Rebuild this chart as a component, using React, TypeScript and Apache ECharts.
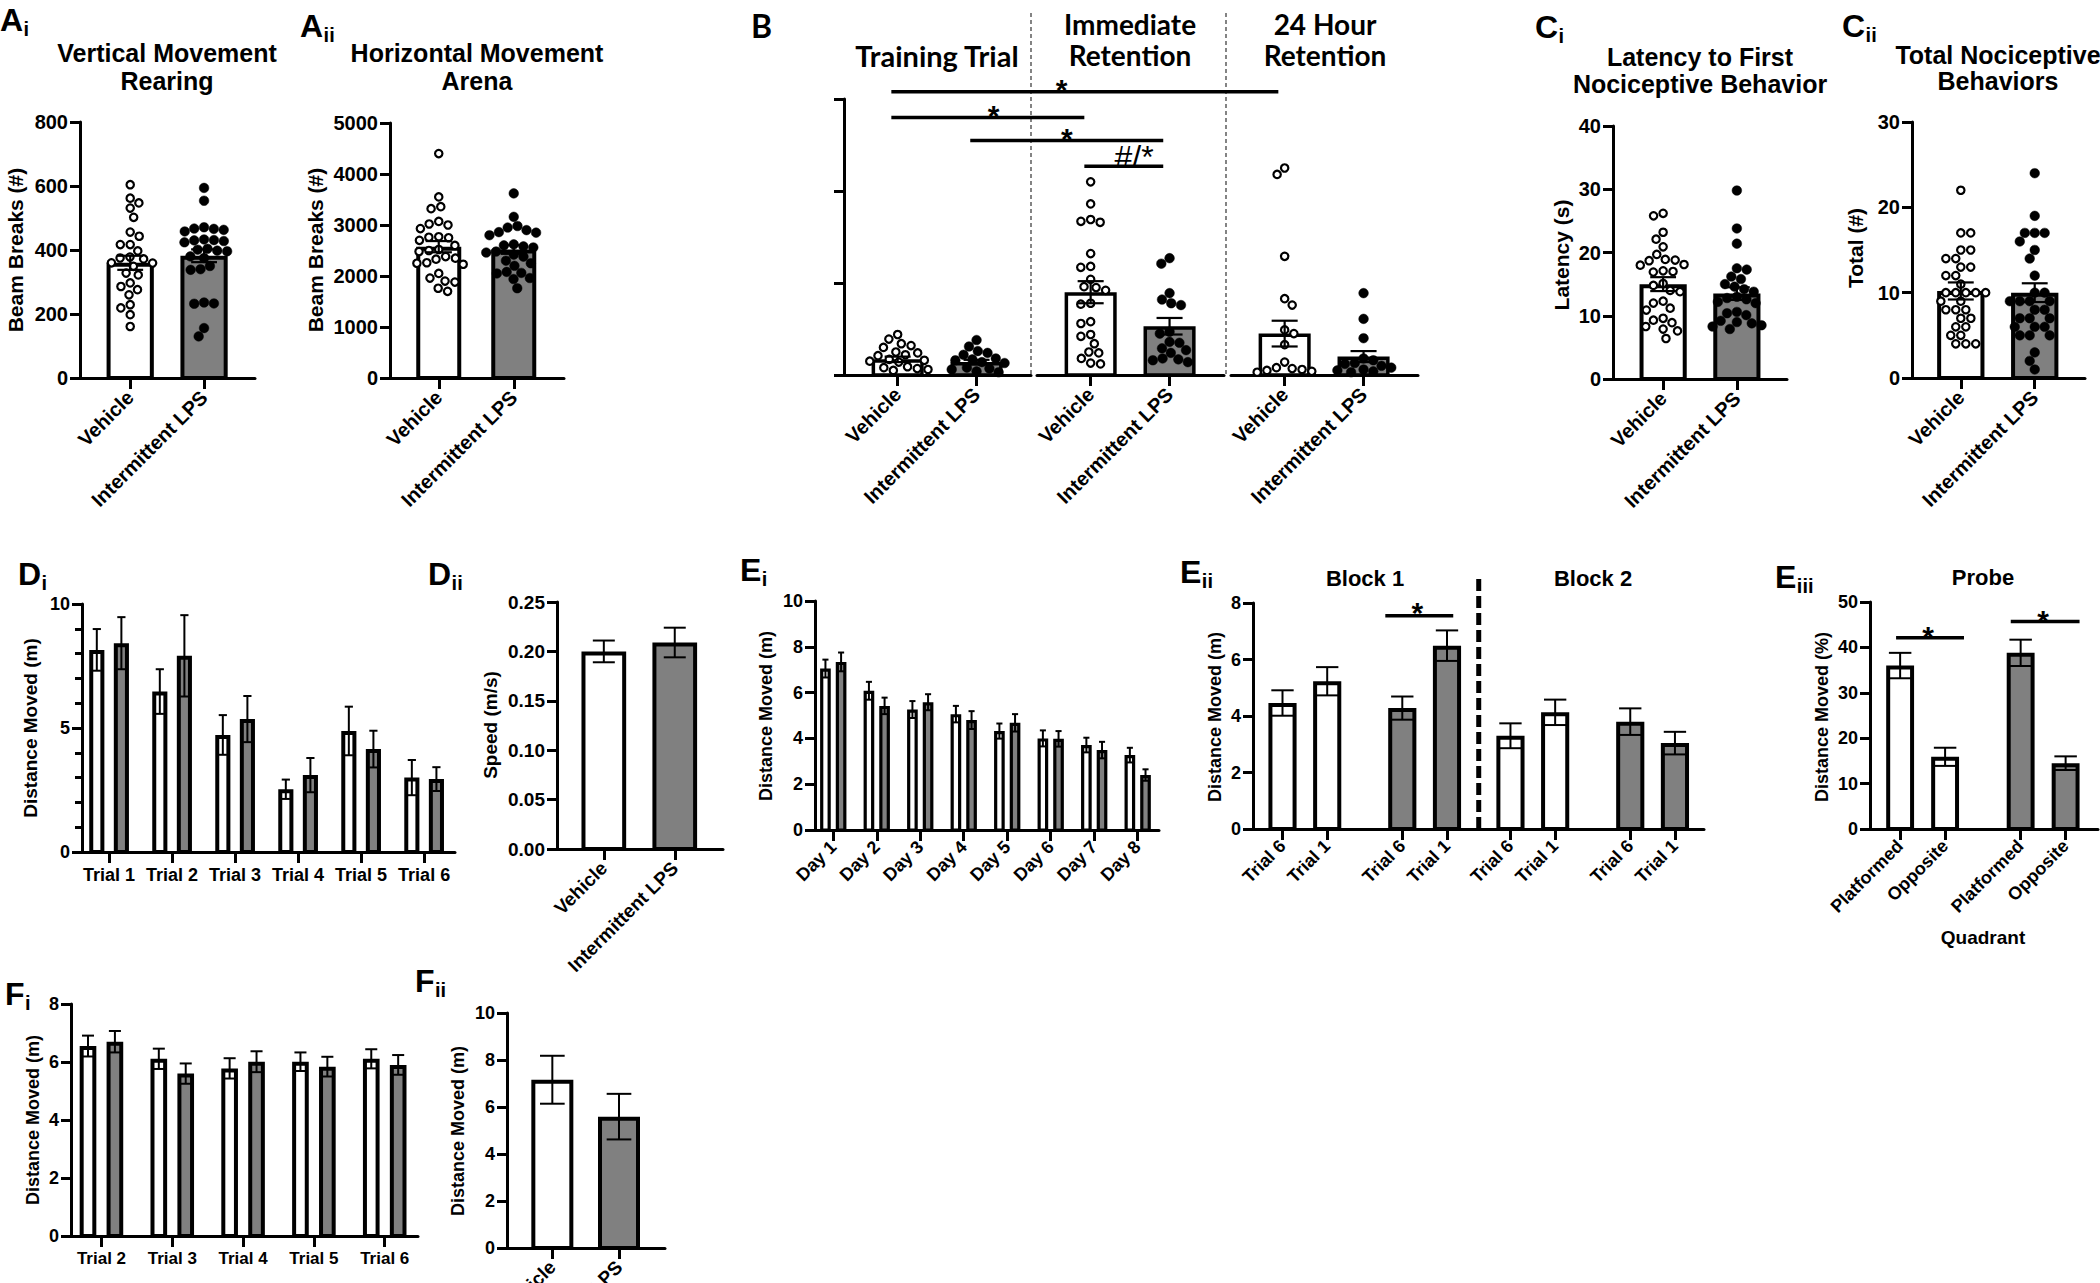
import React, { useEffect, useRef } from "react";
import * as echarts from "echarts";

const SANS = '"Liberation Sans", Arial, Helvetica, sans-serif';
const HUMANIST = 'Lato, "Liberation Sans", Arial, sans-serif';
const INK = "#000000";
const GREY = "#808080";
const PAPER = "#ffffff";

// ---------------- data ----------------
const groupNames = ["Vehicle", "Intermittent LPS"];

// Ai – vertical movement (rearing), beam breaks (#)
const rearingMean = [360, 382];
const rearingSem = [22, 20];
const rearingVehicle = [604, 562, 547, 531, 502, 456, 443, 417, 417, 397, 378, 375, 372, 360, 359, 349, 328, 322, 297, 286, 276, 260, 229, 219, 198, 161];
const rearingLps = [594, 554, 471, 467, 466, 463, 458, 433, 431, 430, 428, 424, 404, 401, 398, 396, 380, 375, 350, 340, 338, 236, 233, 232, 156, 130];

// Aii – horizontal movement (arena), beam breaks (#)
const arenaMean = [2575, 2520];
const arenaSem = [110, 85];
const arenaVehicle = [4400, 3550, 3360, 3320, 3070, 3020, 3000, 2930, 2770, 2760, 2750, 2700, 2600, 2520, 2500, 2480, 2380, 2350, 2330, 2260, 2250, 2230, 2050, 1960, 1900, 1880, 1760, 1700];
const arenaLps = [3620, 3160, 2980, 2950, 2900, 2860, 2850, 2800, 2620, 2600, 2580, 2560, 2480, 2460, 2420, 2380, 2300, 2250, 2200, 2080, 2060, 2050, 1960, 1940, 1760];

// B – passive avoidance (three phases)
const passiveVehicleMean = [17, 90, 45];
const passiveVehicleSem = [3, 12, 14];
const passiveLpsMean = [14, 53, 20];
const passiveLpsSem = [2.5, 9, 6];
const trainingVehicle = [44, 39, 34, 32, 30, 25, 24, 22, 21, 17, 16, 15, 14, 9, 8, 7, 6, 5];
const trainingLps = [38, 31, 26, 24, 22, 18, 17, 16, 14, 13, 8, 7, 6, 4, 3];
const immediateVehicle = [210, 186, 169, 167, 166, 132, 118, 117, 104, 96, 95, 92, 78, 77, 58, 56, 44, 42, 34, 25, 24, 18, 13, 12];
const immediateLps = [127, 121, 89, 82, 78, 76, 47, 45, 36, 35, 29, 27, 24, 18, 17, 16, 14];
const dayAfterVehicle = [225, 218, 129, 83, 76, 49, 45, 33, 14, 8, 7, 6, 5, 4, 3];
const dayAfterLps = [89, 61, 40, 18, 16, 13, 12, 10, 8, 6, 5, 4, 3];
const passiveSigY = [308, 280, 255, 227];

// Ci – latency to first nociceptive behaviour (s)
const latencyMean = [15.0, 13.5];
const latencySem = [1.1, 1.0];
const latencyVehicle = [26.2, 25.8, 23.2, 22.1, 20.9, 19.7, 18.9, 18.8, 18.7, 18.1, 18.0, 17.1, 17.0, 16.9, 15.1, 14.8, 14.0, 13.8, 12.3, 12.0, 11.2, 10.9, 9.6, 9.3, 8.9, 8.3, 7.9, 7.6, 6.4];
const latencyLps = [29.8, 23.8, 21.4, 17.5, 17.3, 16.2, 15.8, 15.0, 14.6, 14.2, 13.8, 13.0, 12.8, 12.6, 12.2, 12.0, 10.6, 10.4, 10.1, 9.2, 9.0, 8.8, 8.5, 8.3, 7.9];

// Cii – total nociceptive behaviours (#)
const totalMean = [10.2, 10.0];
const totalSem = [1.0, 1.1];
const totalVehicle = [22, 17, 17, 15, 15, 14, 14, 13, 13, 12, 12, 11, 10, 10, 10, 10, 10, 9, 9, 8, 8, 8, 7, 7, 6, 6, 5, 5, 4, 4, 4];
const totalLps = [24, 19, 17, 17, 17, 16, 15, 14, 12, 10, 10, 9, 9, 9, 9, 8, 8, 7, 7, 7, 6, 6, 6, 5, 5, 5, 3, 2, 1];

// Di – distance moved per trial (m)
const diTrials = ["Trial 1", "Trial 2", "Trial 3", "Trial 4", "Trial 5", "Trial 6"];
const diVehicleMean = [8.15, 6.47, 4.72, 2.53, 4.88, 3.0];
const diVehicleSem = [0.84, 0.9, 0.8, 0.39, 0.98, 0.71];
const diLpsMean = [8.42, 7.91, 5.36, 3.1, 4.15, 2.94];
const diLpsSem = [1.05, 1.64, 0.93, 0.69, 0.74, 0.48];

// Dii – speed (m/s)
const speedMean = [0.2, 0.209];
const speedSem = [0.011, 0.015];

// Ei – distance moved per day (m)
const eiDays = ["Day 1", "Day 2", "Day 3", "Day 4", "Day 5", "Day 6", "Day 7", "Day 8"];
const eiVehicleMean = [7.05, 6.08, 5.26, 5.06, 4.32, 4.0, 3.71, 3.27];
const eiVehicleSem = [0.39, 0.39, 0.37, 0.36, 0.33, 0.35, 0.32, 0.32];
const eiLpsMean = [7.34, 5.42, 5.58, 4.8, 4.68, 3.98, 3.49, 2.4];
const eiLpsSem = [0.41, 0.36, 0.35, 0.39, 0.38, 0.34, 0.36, 0.25];

// Eii – trial 6 vs trial 1 per block (m)
const eiiTrials = ["Trial 6", "Trial 1"];
const eiiBlocks = ["Block 1", "Block 2"];
const eiiVehicleBlock1 = [4.46, 5.23];
const eiiVehicleBlock1Sem = [0.45, 0.5];
const eiiLpsBlock1 = [4.28, 6.49];
const eiiLpsBlock1Sem = [0.41, 0.54];
const eiiVehicleBlock2 = [3.3, 4.13];
const eiiVehicleBlock2Sem = [0.44, 0.45];
const eiiLpsBlock2 = [3.8, 3.04];
const eiiLpsBlock2Sem = [0.47, 0.4];

// Eiii – probe, % distance by quadrant
const quadrants = ["Platformed", "Opposite"];
const probeVehicle = [36.0, 15.9];
const probeVehicleSem = [2.8, 2.0];
const probeLps = [38.8, 14.5];
const probeLpsSem = [2.9, 1.5];

// Fi – distance moved per trial (m)
const fiTrials = ["Trial 2", "Trial 3", "Trial 4", "Trial 5", "Trial 6"];
const fiVehicleMean = [6.55, 6.11, 5.78, 6.01, 6.11];
const fiVehicleSem = [0.36, 0.35, 0.35, 0.32, 0.33];
const fiLpsMean = [6.7, 5.6, 6.01, 5.84, 5.9];
const fiLpsSem = [0.37, 0.35, 0.36, 0.34, 0.34];

// Fii – distance moved (m)
const fiiMean = [7.16, 5.59];
const fiiSem = [1.02, 0.97];

// ---------------- helpers ----------------
function swarm(points: number[][], d: number): number[][] {
  const order = points.map((_, i) => i).sort((a, b) => points[a][1] - points[b][1]);
  const placed: number[][] = [];
  const out: number[][] = new Array(points.length);
  let side = 1;
  for (const i of order) {
    const cx = points[i][0];
    const cy = points[i][1];
    const near = placed.filter((p) => Math.abs(p[1] - cy) < d);
    const cand: number[] = [0];
    for (const p of near) {
      const h = Math.sqrt(Math.max(0, d * d - (p[1] - cy) * (p[1] - cy)));
      cand.push(p[0] - cx + h + 0.01, p[0] - cx - h - 0.01);
    }
    cand.sort((a, b) => Math.abs(a) - Math.abs(b) || side * (b - a));
    let dx = 0;
    for (const c of cand) {
      const x = cx + c;
      if (near.every((p) => (p[0] - x) * (p[0] - x) + (p[1] - cy) * (p[1] - cy) >= d * d - 0.5)) {
        dx = c;
        break;
      }
    }
    side = -side;
    placed.push([cx + dx, cy]);
    out[i] = [cx + dx, cy];
  }
  return out;
}

function barSeries(g: number, xs: number[], vals: number[], fills: string[], widthU: number, bw: number) {
  return {
    type: "custom",
    xAxisIndex: g,
    yAxisIndex: g,
    z: 2,
    silent: true,
    data: xs.map((x, i) => [x, vals[i], i]),
    renderItem: (params: any, api: any) => {
      const x = api.value(0);
      const v = api.value(1);
      const i = api.value(2);
      const base = api.coord([x, 0]);
      const top = api.coord([x, v]);
      const w = api.size([widthU, 0])[0];
      return {
        type: "rect",
        shape: { x: base[0] - w / 2 + bw / 2, y: top[1] + bw / 2, width: w - bw, height: base[1] - top[1] - bw / 2 },
        style: { fill: fills[i], stroke: INK, lineWidth: bw },
      };
    },
  };
}

function errSeries(g: number, xs: number[], means: number[], sems: number[], capU: number, lw: number) {
  return {
    type: "custom",
    xAxisIndex: g,
    yAxisIndex: g,
    z: 4,
    silent: true,
    data: xs.map((x, i) => [x, means[i], sems[i]]),
    renderItem: (params: any, api: any) => {
      const x = api.value(0);
      const m = api.value(1);
      const s = api.value(2);
      const hi = api.coord([x, m + s]);
      const lo = api.coord([x, m - s]);
      const c = api.size([capU, 0])[0] / 2;
      const st = { stroke: INK, lineWidth: lw };
      return {
        type: "group",
        children: [
          { type: "line", shape: { x1: hi[0], y1: hi[1], x2: lo[0], y2: lo[1] }, style: st },
          { type: "line", shape: { x1: hi[0] - c, y1: hi[1], x2: hi[0] + c, y2: hi[1] }, style: st },
          { type: "line", shape: { x1: lo[0] - c, y1: lo[1], x2: lo[0] + c, y2: lo[1] }, style: st },
        ],
      };
    },
  };
}

function dotSeries(g: number, x: number, vals: number[], hollow: boolean) {
  const r = 4.8;
  return {
    type: "custom",
    xAxisIndex: g,
    yAxisIndex: g,
    z: 3,
    silent: true,
    data: vals.map((v) => [x, v]),
    renderItem: (params: any, api: any) => {
      const ctx = params.context;
      if (!ctx.swarm) ctx.swarm = swarm(vals.map((v) => api.coord([x, v])), 2 * r + 0.3);
      const p = ctx.swarm[params.dataIndex];
      return {
        type: "circle",
        shape: { cx: p[0], cy: p[1], r: hollow ? r - 1.1 : r },
        style: { fill: hollow ? PAPER : INK, stroke: INK, lineWidth: hollow ? 2.2 : 0.5 },
      };
    },
  };
}

const LETTER_W: Record<string, number> = { A: 0.722, B: 0.722, C: 0.722, D: 0.722, E: 0.667, F: 0.611 };

function buildChart(chart: any) {
  const grid: any[] = [];
  const xAxis: any[] = [];
  const yAxis: any[] = [];
  const series: any[] = [];
  const statics: any[] = [];
  const sigs: any[] = [];
  const vdash: any[] = [];

  const text = (x: number, y: number, t: string, size: number, o: any = {}) =>
    statics.push({
      type: "text",
      x,
      y,
      rotation: o.rot || 0,
      z: 50,
      silent: true,
      style: {
        text: t,
        fill: INK,
        font: `${o.weight || "bold"} ${size}px ${o.family || SANS}`,
        align: o.align || "center",
        verticalAlign: "middle",
        textAlign: o.align || "center",
        textVerticalAlign: "middle",
      },
    });
  const LS = 32;
  const letter = (x: number, y: number, ch: string, sub: string, fam = SANS) => {
    text(x, y, ch, LS, { align: "left", family: fam });
    if (sub) text(x + LETTER_W[ch] * LS + 0.5, y + 9, sub, 20, { align: "left" });
  };
  const yTitle = (x: number, y: number, t: string, size: number) => text(x, y, t, size, { rot: Math.PI / 2 });

  function panel(c: any): number {
    const idx = grid.length;
    const lw = c.lw || 3;
    grid.push({ left: c.left, top: c.top, width: c.width, height: c.height, containLabel: false, outerBoundsMode: "none" });
    xAxis.push({
      gridIndex: idx,
      type: "value",
      min: c.xMin,
      max: c.xMax,
      axisLine: { show: true, onZero: false, lineStyle: { color: INK, width: lw } },
      axisTick: { show: true, customValues: c.ticks, length: 11, lineStyle: { color: INK, width: lw } },
      axisLabel: {
        show: true,
        customValues: c.ticks,
        rotate: c.rotate || 0,
        margin: c.xMargin || 14,
        color: INK,
        fontFamily: SANS,
        fontWeight: "bold",
        fontSize: c.xFont || 18,
        formatter: (v: number) => {
          const k = c.ticks.findIndex((t: number) => Math.abs(t - v) < 1e-6);
          return k >= 0 ? c.labels[k] : "";
        },
      },
      splitLine: { show: false },
      minorTick: { show: false },
      minorSplitLine: { show: false },
    });
    yAxis.push({
      gridIndex: idx,
      type: "value",
      show: c.yShow === undefined ? true : c.yShow,
      min: 0,
      max: c.yMax,
      interval: c.yInterval,
      axisLine: { show: true, onZero: false, lineStyle: { color: INK, width: lw } },
      axisTick: { show: true, length: 10, lineStyle: { color: INK, width: lw } },
      minorTick: c.minor
        ? { show: true, splitNumber: c.minor, length: 7, lineStyle: { color: INK, width: lw } }
        : { show: false },
      axisLabel: {
        show: c.yLabels === undefined ? true : c.yLabels,
        margin: c.yMargin || 12,
        color: INK,
        fontFamily: SANS,
        fontWeight: "bold",
        fontSize: c.yFont || 18,
        formatter: c.yFormat || ((v: number) => String(v)),
      },
      splitLine: { show: false },
    });
    return idx;
  }

  function dotBars(g: number, means: number[], sems: number[], dots: number[][], barW: number, capW: number, bw = 4) {
    series.push(barSeries(g, [0, 1], means, [PAPER, GREY], barW, bw));
    dots.forEach((vals, k) => series.push(dotSeries(g, k, vals, k === 0)));
    series.push(errSeries(g, [0, 1], means, sems, capW, 2.2));
  }

  function groupedBars(g: number, vm: number[], vs: number[], lm: number[], ls: number[], off: number, barW: number, capW: number, bw: number) {
    const xs = vm.map((_, i) => i);
    series.push(barSeries(g, xs.map((x) => x - off), vm, vm.map(() => PAPER), barW, bw));
    series.push(barSeries(g, xs.map((x) => x + off), lm, lm.map(() => GREY), barW, bw));
    series.push(errSeries(g, xs.map((x) => x - off), vm, vs, capW, 2));
    series.push(errSeries(g, xs.map((x) => x + off), lm, ls, capW, 2));
  }

  // ---------- Ai ----------
  const gAi = panel({ left: 80, top: 122, width: 175, height: 256, xMin: -0.68, xMax: 1.69, ticks: [0, 1], labels: groupNames, rotate: 45, xFont: 20, xMargin: 16, yMax: 800, yInterval: 200, yFont: 20 });
  dotBars(gAi, rearingMean, rearingSem, [rearingVehicle, rearingLps], 0.64, 0.35);
  letter(0, 20, "A", "i");
  text(167, 53, "Vertical Movement", 25);
  text(167, 81, "Rearing", 25);
  yTitle(15, 250, "Beam Breaks (#)", 21);

  // ---------- Aii ----------
  const gAii = panel({ left: 390, top: 123, width: 174, height: 255, xMin: -0.65, xMax: 1.67, ticks: [0, 1], labels: groupNames, rotate: 45, xFont: 20, xMargin: 16, yMax: 5000, yInterval: 1000, yFont: 20 });
  dotBars(gAii, arenaMean, arenaSem, [arenaVehicle, arenaLps], 0.6, 0.35);
  letter(300, 26, "A", "ii");
  text(477, 53, "Horizontal Movement", 25);
  text(477, 81, "Arena", 25);
  yTitle(315, 250, "Beam Breaks (#)", 21);

  // ---------- B ----------
  const bLefts = [844, 1037, 1231];
  const bDots = [
    [trainingVehicle, trainingLps],
    [immediateVehicle, immediateLps],
    [dayAfterVehicle, dayAfterLps],
  ];
  const gB = bLefts.map((left, k) => {
    const g = panel({ left, top: 99, width: 187, height: 276, xMin: -0.68, xMax: 1.69, ticks: [0, 1], labels: groupNames, rotate: 45, xFont: 20, xMargin: 16, yMax: 300, yInterval: 100, yLabels: false, yShow: k === 0 });
    dotBars(g, [passiveVehicleMean[k], passiveLpsMean[k]], [passiveVehicleSem[k], passiveLpsSem[k]], bDots[k], 0.66, 0.33, 3.5);
    return g;
  });
  letter(751, 25, "B", "", HUMANIST);
  text(937, 55, "Training Trial", 29, { family: HUMANIST });
  text(1130, 24, "Immediate", 28, { family: HUMANIST });
  text(1130, 55, "Retention", 28, { family: HUMANIST });
  text(1325, 24, "24 Hour", 28, { family: HUMANIST });
  text(1325, 55, "Retention", 28, { family: HUMANIST });
  [bLefts[0] + 187, bLefts[1] + 189].forEach((x) =>
    statics.push({ type: "line", silent: true, z: 40, shape: { x1: x, y1: 13, x2: x, y2: 375 }, style: { stroke: "#333", lineWidth: 1.2, lineDash: [4, 3] } })
  );
  const sh = -0.08;
  sigs.push({ ga: gB[0], xa: sh, gb: gB[2], xb: sh, y: passiveSigY[0], t: "*", at: 0.44, size: 30, dy: 2 });
  sigs.push({ ga: gB[0], xa: sh, gb: gB[1], xb: sh, y: passiveSigY[1], t: "*", at: 0.53, size: 30, dy: 2 });
  sigs.push({ ga: gB[0], xa: 1 + sh, gb: gB[1], xb: 1 + sh, y: passiveSigY[2], t: "*", at: 0.5, size: 30, dy: 2 });
  sigs.push({ ga: gB[1], xa: sh, gb: gB[1], xb: 1 + sh, y: passiveSigY[3], t: "#/*", at: 0.63, size: 32, w: "normal", dy: 9 });

  // ---------- Ci ----------
  const gCi = panel({ left: 1613, top: 126, width: 174, height: 253, xMin: -0.68, xMax: 1.68, ticks: [0, 1], labels: groupNames, rotate: 45, xFont: 20, xMargin: 16, yMax: 40, yInterval: 10, yFont: 20 });
  dotBars(gCi, latencyMean, latencySem, [latencyVehicle, latencyLps], 0.64, 0.35);
  letter(1535, 27, "C", "i");
  text(1700, 57, "Latency to First", 25);
  text(1700, 84, "Nociceptive Behavior", 25);
  yTitle(1561, 255, "Latency (s)", 21);

  // ---------- Cii ----------
  const gCii = panel({ left: 1912, top: 122, width: 173, height: 256, xMin: -0.66, xMax: 1.68, ticks: [0, 1], labels: groupNames, rotate: 45, xFont: 20, xMargin: 16, yMax: 30, yInterval: 10, yFont: 20 });
  dotBars(gCii, totalMean, totalSem, [totalVehicle, totalLps], 0.64, 0.35);
  letter(1842, 26, "C", "ii");
  text(1998, 55, "Total Nociceptive", 25);
  text(1998, 81, "Behaviors", 25);
  yTitle(1855, 248, "Total (#)", 21);

  // ---------- Di ----------
  const gDi = panel({ left: 82, top: 604, width: 373, height: 248, xMin: -0.43, xMax: 5.49, ticks: [0, 1, 2, 3, 4, 5], labels: diTrials, rotate: 0, xFont: 18, xMargin: 14, yMax: 10, yInterval: 5, minor: 5, yFont: 18 });
  groupedBars(gDi, diVehicleMean, diVehicleSem, diLpsMean, diLpsSem, 0.195, 0.24, 0.13, 4);
  letter(18, 574, "D", "i");
  yTitle(30, 728, "Distance Moved (m)", 19);

  // ---------- Dii ----------
  const gDii = panel({ left: 557, top: 602, width: 166, height: 247, xMin: -0.66, xMax: 1.68, ticks: [0, 1], labels: groupNames, rotate: 45, xFont: 19, xMargin: 16, yMax: 0.25, yInterval: 0.05, yFont: 19, yFormat: (v: number) => v.toFixed(2) });
  series.push(barSeries(gDii, [0, 1], speedMean, [PAPER, GREY], 0.63, 4));
  series.push(errSeries(gDii, [0, 1], speedMean, speedSem, 0.31, 2));
  letter(428, 574, "D", "ii");
  yTitle(490, 725, "Speed (m/s)", 19);

  // ---------- Ei ----------
  const gEi = panel({ left: 815, top: 601, width: 344, height: 229, xMin: -0.42, xMax: 7.49, ticks: [0, 1, 2, 3, 4, 5, 6, 7], labels: eiDays, rotate: 45, xFont: 18, xMargin: 14, yMax: 10, yInterval: 2, yFont: 18 });
  groupedBars(gEi, eiVehicleMean, eiVehicleSem, eiLpsMean, eiLpsSem, 0.18, 0.245, 0.14, 3.2);
  letter(740, 570, "E", "i");
  yTitle(766, 716, "Distance Moved (m)", 18);

  // ---------- Eii ----------
  const PAIR_STEP = 2.68;
  const BLOCK_STEP = 5.1;
  const eiiPos = (b: number, grp: number, t: number) => b * BLOCK_STEP + grp * PAIR_STEP + t;
  const eiiTicks: number[] = [];
  const eiiLabels: string[] = [];
  [0, 1].forEach((b) => [0, 1].forEach((grp) => [0, 1].forEach((t) => { eiiTicks.push(eiiPos(b, grp, t)); eiiLabels.push(eiiTrials[t]); })));
  const gEii = panel({ left: 1253, top: 603, width: 451, height: 226, xMin: -0.66, xMax: 9.43, ticks: eiiTicks, labels: eiiLabels, rotate: 45, xFont: 18, xMargin: 14, yMax: 8, yInterval: 2, yFont: 18 });
  const eiiSets = [
    [0, 0, eiiVehicleBlock1, eiiVehicleBlock1Sem],
    [0, 1, eiiLpsBlock1, eiiLpsBlock1Sem],
    [1, 0, eiiVehicleBlock2, eiiVehicleBlock2Sem],
    [1, 1, eiiLpsBlock2, eiiLpsBlock2Sem],
  ] as any[];
  eiiSets.forEach(([b, grp, m, s]) => {
    const xs = [0, 1].map((t) => eiiPos(b, grp, t));
    series.push(barSeries(gEii, xs, m, m.map(() => (grp === 0 ? PAPER : GREY)), 0.63, 4));
    series.push(errSeries(gEii, xs, m, s, 0.5, 2));
  });
  letter(1180, 572, "E", "ii");
  text(1365, 578, eiiBlocks[0], 22);
  text(1593, 578, eiiBlocks[1], 22);
  yTitle(1215, 717, "Distance Moved (m)", 18);
  sigs.push({ ga: gEii, xa: 2.3, gb: gEii, xb: 3.82, y: 7.55, t: "*", at: 0.47, size: 30, dy: 3 });
  vdash.push({ g: gEii, x: (eiiPos(0, 1, 1) + eiiPos(1, 0, 0)) / 2, y1: 0, y2: 8.88 });

  // ---------- Eiii ----------
  const probeTicks = [0, 1, PAIR_STEP, PAIR_STEP + 1];
  const gEiii = panel({ left: 1870, top: 602, width: 228, height: 227, xMin: -0.67, xMax: 4.4, ticks: probeTicks, labels: [...quadrants, ...quadrants], rotate: 45, xFont: 18, xMargin: 14, yMax: 50, yInterval: 10, yFont: 18 });
  series.push(barSeries(gEiii, [0, 1], probeVehicle, [PAPER, PAPER], 0.62, 4));
  series.push(barSeries(gEiii, [PAIR_STEP, PAIR_STEP + 1], probeLps, [GREY, GREY], 0.62, 4));
  series.push(errSeries(gEiii, [0, 1], probeVehicle, probeVehicleSem, 0.5, 2));
  series.push(errSeries(gEiii, [PAIR_STEP, PAIR_STEP + 1], probeLps, probeLpsSem, 0.5, 2));
  letter(1775, 577, "E", "iii");
  text(1983, 577, "Probe", 22);
  text(1983, 937, "Quadrant", 19);
  yTitle(1822, 717, "Distance Moved (%)", 18);
  sigs.push({ ga: gEiii, xa: -0.09, gb: gEiii, xb: 1.42, y: 42.1, t: "*", at: 0.47, size: 30, dy: 1 });
  sigs.push({ ga: gEiii, xa: 2.46, gb: gEiii, xb: 3.99, y: 45.7, t: "*", at: 0.47, size: 30, dy: 1 });

  // ---------- Fi ----------
  const gFi = panel({ left: 71, top: 1004, width: 347, height: 232, xMin: -0.43, xMax: 4.47, ticks: [0, 1, 2, 3, 4], labels: fiTrials, rotate: 0, xFont: 17, xMargin: 14, yMax: 8, yInterval: 2, yFont: 18 });
  groupedBars(gFi, fiVehicleMean, fiVehicleSem, fiLpsMean, fiLpsSem, 0.19, 0.235, 0.17, 4);
  letter(5, 994, "F", "i");
  yTitle(33, 1120, "Distance Moved (m)", 18);

  // ---------- Fii ----------
  const gFii = panel({ left: 507, top: 1013, width: 158, height: 235, xMin: -0.68, xMax: 1.69, ticks: [0, 1], labels: groupNames, rotate: 45, xFont: 19, xMargin: 16, yMax: 10, yInterval: 2, yFont: 18 });
  series.push(barSeries(gFii, [0, 1], fiiMean, [PAPER, GREY], 0.63, 4));
  series.push(errSeries(gFii, [0, 1], fiiMean, fiiSem, 0.37, 2));
  letter(415, 981, "F", "ii");
  yTitle(458, 1131, "Distance Moved (m)", 18);

  chart.setOption({ animation: false, backgroundColor: PAPER, grid, xAxis, yAxis, series });

  const dyn: any[] = [];
  for (const s of sigs) {
    const p1 = chart.convertToPixel({ gridIndex: s.ga }, [s.xa, s.y]);
    const p2 = chart.convertToPixel({ gridIndex: s.gb }, [s.xb, s.y]);
    dyn.push({ type: "line", silent: true, z: 45, shape: { x1: p1[0], y1: p1[1], x2: p2[0], y2: p1[1] }, style: { stroke: INK, lineWidth: 3.5 } });
    dyn.push({
      type: "text",
      silent: true,
      z: 45,
      x: p1[0] + (p2[0] - p1[0]) * s.at,
      y: p1[1] - s.dy,
      style: { text: s.t, fill: INK, font: `${s.w || "bold"} ${s.size}px ${SANS}`, align: "center", verticalAlign: "middle", textAlign: "center", textVerticalAlign: "middle" },
    });
  }
  for (const v of vdash) {
    const p1 = chart.convertToPixel({ gridIndex: v.g }, [v.x, v.y1]);
    const p2 = chart.convertToPixel({ gridIndex: v.g }, [v.x, v.y2]);
    dyn.push({ type: "line", silent: true, z: 45, shape: { x1: p1[0], y1: p1[1], x2: p2[0], y2: p2[1] }, style: { stroke: INK, lineWidth: 5, lineDash: [12, 5] } });
  }
  chart.setOption({ graphic: { elements: [...statics, ...dyn] } });
}

export default function App() {
  const ref = useRef<HTMLDivElement>(null);
  useEffect(() => {
    if (!ref.current) return;
    const chart = echarts.init(ref.current, null, { renderer: "svg", width: 2100, height: 1283 });
    buildChart(chart);
    return () => chart.dispose();
  }, []);
  return <div ref={ref} style={{ position: "fixed", left: 0, top: 0, width: 2100, height: 1283, background: "#fff" }} />;
}
